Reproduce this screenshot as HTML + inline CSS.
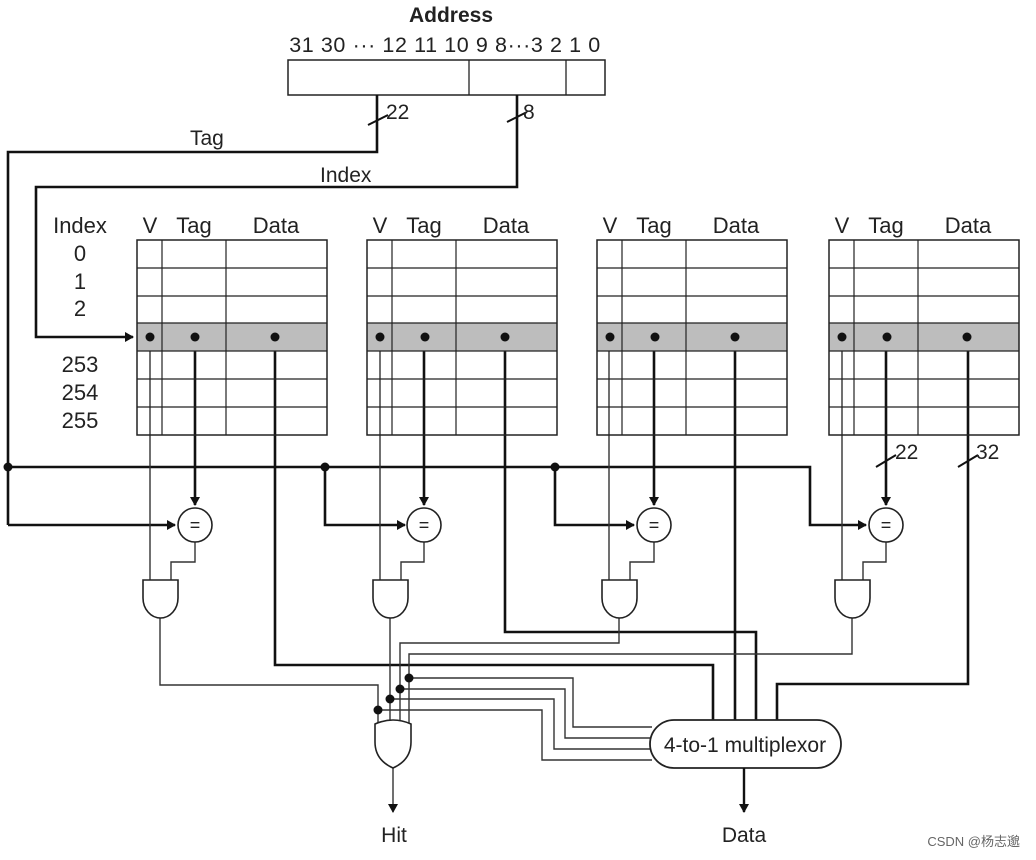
<!DOCTYPE html>
<html><head><meta charset="utf-8"><style>
html,body{margin:0;padding:0;background:#fff;}
svg{display:block;font-family:"Liberation Sans",Arial,sans-serif;}
</style></head><body>
<svg width="1036" height="860" viewBox="0 0 1036 860" xmlns="http://www.w3.org/2000/svg">
<defs>
<marker id="ar" markerWidth="9" markerHeight="10" refX="8" refY="5" orient="auto" markerUnits="userSpaceOnUse"><path d="M0,0 L9,5 L0,10 z" fill="#111"/></marker>
<g id="tbl">
<rect x="0" y="323" width="190" height="28" fill="#bdbdbd"/>
<rect x="0" y="240" width="190" height="195" fill="none" stroke="#222" stroke-width="1.5"/>
<g stroke="#222" stroke-width="1.2">
<line x1="0" y1="268" x2="190" y2="268"/><line x1="0" y1="296" x2="190" y2="296"/>
<line x1="0" y1="323" x2="190" y2="323"/><line x1="0" y1="351" x2="190" y2="351"/>
<line x1="0" y1="379" x2="190" y2="379"/><line x1="0" y1="407" x2="190" y2="407"/>
<line x1="25" y1="240" x2="25" y2="435"/><line x1="89" y1="240" x2="89" y2="435"/>
</g>
<g fill="#111"><circle cx="13" cy="337" r="4.5"/><circle cx="58" cy="337" r="4.5"/><circle cx="138" cy="337" r="4.5"/></g>
<g font-size="22" fill="#222" text-anchor="middle">
<text x="13" y="233">V</text><text x="57" y="233">Tag</text><text x="139" y="233">Data</text>
</g>
</g>
<g id="andg"><path d="M0,0 H35 V18 A17.5,20 0 0 1 0,18 Z" fill="#fff" stroke="#222" stroke-width="1.6"/></g>
</defs>

<!-- Address -->
<text x="451" y="22" font-size="21" font-weight="bold" text-anchor="middle" fill="#222">Address</text>
<text x="445" y="52" font-size="21.5" text-anchor="middle" fill="#222" letter-spacing="0.6">31 30 ··· 12 11 10 9 8···3 2 1 0</text>
<rect x="288" y="60" width="317" height="35" fill="none" stroke="#222" stroke-width="1.5"/>
<line x1="469" y1="60" x2="469" y2="95" stroke="#222" stroke-width="1.3"/>
<line x1="566" y1="60" x2="566" y2="95" stroke="#222" stroke-width="1.3"/>

<g fill="none" stroke="#111" stroke-width="2.6">
<polyline points="377,95 377,152 8,152 8,525"/>
<polyline points="8,525 175,525" marker-end="url(#ar)"/>
<polyline points="517,95 517,187 36,187 36,337 133,337" marker-end="url(#ar)"/>
<polyline points="8,467 810,467 810,525 866,525" marker-end="url(#ar)"/>
<polyline points="325,467 325,525 405,525" marker-end="url(#ar)"/>
<polyline points="555,467 555,525 634,525" marker-end="url(#ar)"/>
<line x1="195" y1="337" x2="195" y2="505" marker-end="url(#ar)"/>
<line x1="424" y1="337" x2="424" y2="505" marker-end="url(#ar)"/>
<line x1="654" y1="337" x2="654" y2="505" marker-end="url(#ar)"/>
<line x1="886" y1="337" x2="886" y2="505" marker-end="url(#ar)"/>
<polyline points="275,337 275,665 713,665 713,720"/>
<polyline points="505,337 505,632 756,632 756,720"/>
<polyline points="735,337 735,720"/>
<polyline points="968,337 968,684 777,684 777,720"/>
</g>
<g stroke="#111" stroke-width="2">
<line x1="368" y1="125" x2="388" y2="115"/><line x1="507" y1="122" x2="527" y2="112"/>
<line x1="876" y1="467" x2="896" y2="455"/><line x1="958" y1="467" x2="978" y2="455"/>
</g>
<g font-size="21" fill="#222">
<text x="386" y="119">22</text><text x="523" y="119">8</text>
<text x="895" y="459">22</text><text x="976" y="459">32</text>
<text x="190" y="145">Tag</text><text x="320" y="182">Index</text>
</g>
<circle cx="8" cy="467" r="4.5" fill="#111"/><circle cx="325" cy="467" r="4.5" fill="#111"/><circle cx="555" cy="467" r="4.5" fill="#111"/>

<g fill="none" stroke="#333" stroke-width="1.4">
<line x1="150" y1="337" x2="150" y2="580"/><line x1="380" y1="337" x2="380" y2="580"/>
<line x1="609" y1="337" x2="609" y2="580"/><line x1="842" y1="337" x2="842" y2="580"/>
<polyline points="195,542 195,562 171,562 171,580"/>
<polyline points="424,542 424,562 401,562 401,580"/>
<polyline points="654,542 654,562 630,562 630,580"/>
<polyline points="886,542 886,562 863,562 863,580"/>
<polyline points="160,618 160,685 378,685 378,724"/>
<polyline points="390,618 390,724"/>
<polyline points="619,618 619,643 400,643 400,724"/>
<polyline points="852,618 852,654 409,654 409,724"/>
<polyline points="409,678 573,678 573,727 652,727"/>
<polyline points="400,689 565,689 565,738 650,738"/>
<polyline points="390,699 554,699 554,749 650,749"/>
<polyline points="378,710 542,710 542,760 652,760"/>
<line x1="393" y1="768" x2="393" y2="812" marker-end="url(#ar)"/>
</g>
<g fill="#111"><circle cx="409" cy="678" r="4.5"/><circle cx="400" cy="689" r="4.5"/><circle cx="390" cy="699" r="4.5"/><circle cx="378" cy="710" r="4.5"/></g>

<use href="#tbl" x="137"/><use href="#tbl" x="367"/><use href="#tbl" x="597"/><use href="#tbl" x="829"/>
<g font-size="22" fill="#222" text-anchor="middle">
<text x="80" y="233">Index</text>
<text x="80" y="261">0</text><text x="80" y="289">1</text><text x="80" y="316">2</text>
<text x="80" y="372">253</text><text x="80" y="400">254</text><text x="80" y="428">255</text>
</g>

<g fill="#fff" stroke="#222" stroke-width="1.6">
<circle cx="195" cy="525" r="17"/><circle cx="424" cy="525" r="17"/><circle cx="654" cy="525" r="17"/><circle cx="886" cy="525" r="17"/>
</g>
<g font-size="18" fill="#222" text-anchor="middle">
<text x="195" y="531">=</text><text x="424" y="531">=</text><text x="654" y="531">=</text><text x="886" y="531">=</text>
</g>

<use href="#andg" x="143" y="580"/><use href="#andg" x="373" y="580"/><use href="#andg" x="602" y="580"/><use href="#andg" x="835" y="580"/>

<path d="M375,724 Q393,716 411,724 V742 Q411,760 393,768 Q375,760 375,742 Z" fill="#fff" stroke="#222" stroke-width="1.6"/>

<rect x="650" y="720" width="191" height="48" rx="24" fill="#fff" stroke="#222" stroke-width="1.8"/>
<text x="745" y="752" font-size="21" text-anchor="middle" fill="#222">4-to-1 multiplexor</text>
<line x1="744" y1="768" x2="744" y2="812" stroke="#111" stroke-width="2.4" marker-end="url(#ar)"/>

<g font-size="21" fill="#222" text-anchor="middle">
<text x="394" y="842">Hit</text><text x="744" y="842">Data</text>
</g>
<text x="1020" y="846" font-size="13" fill="#666" text-anchor="end" font-family="Liberation Sans,'Noto Sans CJK SC',sans-serif">CSDN @杨志邈</text>
</svg>
</body></html>
